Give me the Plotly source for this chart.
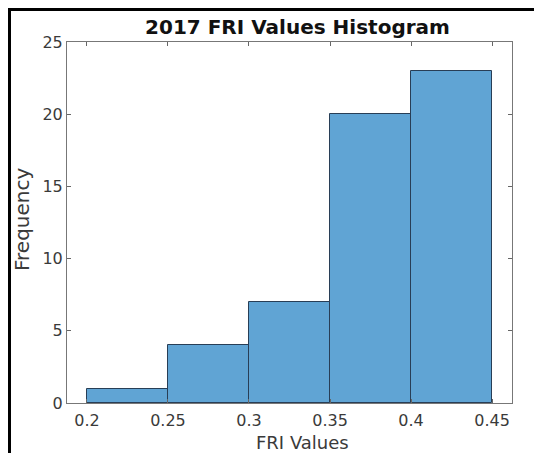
import plotly.graph_objects as go

bin_starts = [0.2, 0.25, 0.3, 0.35, 0.4]
bin_width = 0.05
counts = [1, 4, 7, 20, 23]
x_ticks = [0.2, 0.25, 0.3, 0.35, 0.4, 0.45]
x_tick_labels = ["0.2", "0.25", "0.3", "0.35", "0.4", "0.45"]
y_ticks = [0, 5, 10, 15, 20, 25]

fig = go.Figure()
fig.add_trace(go.Bar(
    x=bin_starts, y=counts, width=[bin_width] * len(bin_starts), offset=0,
    marker=dict(color="rgb(96,164,212)", line=dict(color="rgb(40,62,86)", width=1)),
))

# page is rendered with an 8px body margin
W, H = 534, 445
L, T = 59, 34
pw, ph = 445, 361
R, B = W - L - pw, H - T - ph


def px_x(x):
    return (x - L) / pw


def px_y(y):
    return (T + ph - y) / ph


fig.update_layout(
    width=W, height=H,
    margin=dict(l=L, r=R, t=T, b=B),
    paper_bgcolor="white", plot_bgcolor="white",
    font=dict(family="DejaVu Sans", size=16, color="#3a3a3a"),
    showlegend=False,
    title=dict(text="<b>2017 FRI Values Histogram</b>", x=(L + pw / 2 + 8) / W, xanchor="center",
               y=1 - 19 / H, yanchor="middle", font=dict(size=20, color="#111")),
    xaxis=dict(range=[0.1877, 0.4623], tickvals=x_ticks, ticktext=x_tick_labels,
               ticks="inside", ticklen=4, tickcolor="#666", mirror="ticks",
               ticklabelstandoff=3, automargin=False,
               showline=True, linecolor="#777", linewidth=1, showgrid=False, zeroline=False),
    yaxis=dict(range=[0, 25], tickvals=y_ticks, automargin=False,
               ticks="inside", ticklen=4, tickcolor="#666", mirror="ticks",
               showline=True, linecolor="#777", linewidth=1, showgrid=False, zeroline=False),
    bargap=0,
)

fig.add_annotation(text="FRI Values", xref="paper", yref="paper", x=px_x(294), y=px_y(434),
                   xanchor="center", yanchor="middle", showarrow=False,
                   font=dict(size=18, color="#3a3a3a"))
fig.add_annotation(text="Frequency", xref="paper", yref="paper", x=px_x(14), y=px_y(212),
                   xanchor="center", yanchor="middle", showarrow=False, textangle=-90,
                   font=dict(size=20, color="#3a3a3a"))

fig.add_shape(type="rect", xref="paper", yref="paper",
              x0=px_x(1.5), x1=px_x(560),
              y0=px_y(470), y1=px_y(1.5),
              line=dict(color="black", width=3), fillcolor="rgba(0,0,0,0)", layer="above")

fig.write_html("out.html")
